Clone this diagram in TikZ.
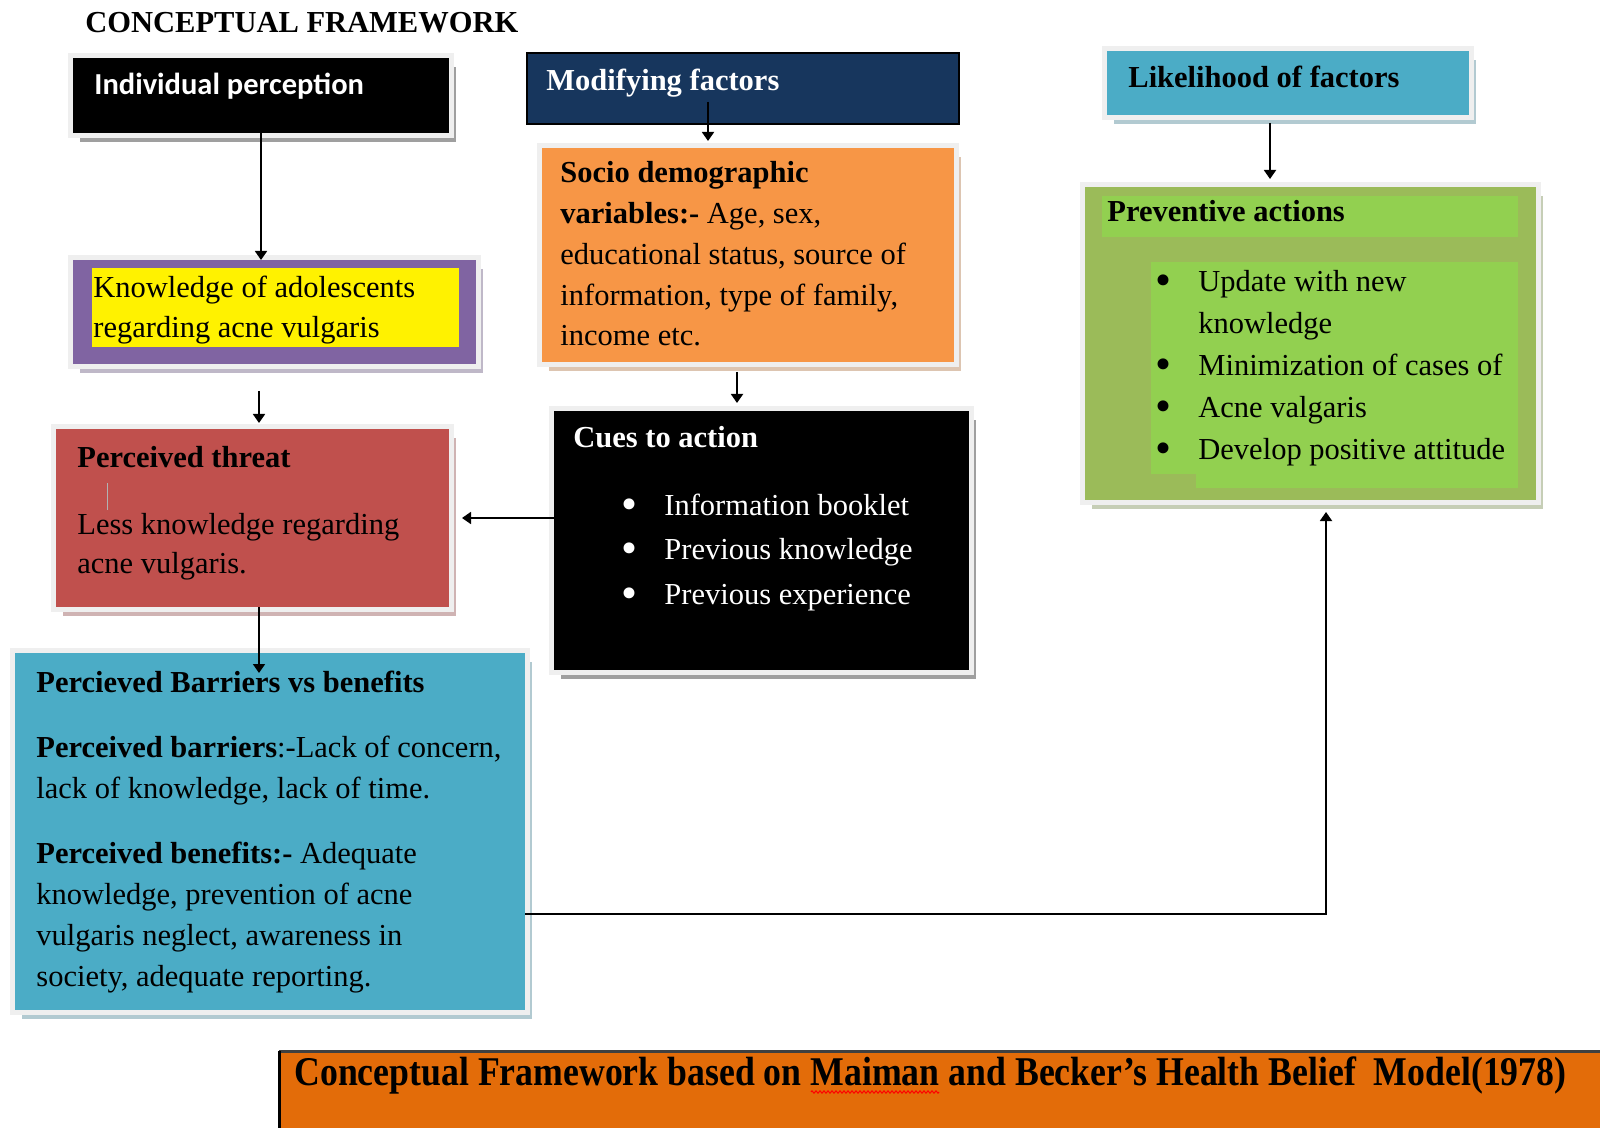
\documentclass[tikz,border=0pt]{standalone}
\usepackage{fontspec}
\setmainfont{Liberation Serif}
\newfontfamily\calibri{Carlito}
\usepackage{graphicx}
\usetikzlibrary{arrows.meta, positioning, fit, shadows, decorations.pathmorphing}

\definecolor{navybox}{HTML}{17365D}
\definecolor{orangebox}{HTML}{F79646}
\definecolor{purplebox}{HTML}{8064A2}
\definecolor{redbox}{HTML}{C0504D}
\definecolor{bluebox}{HTML}{4BACC6}
\definecolor{olivebox}{HTML}{9BBB59}
\definecolor{greenbox}{HTML}{92D050}
\definecolor{bannerorange}{HTML}{E36C09}
\definecolor{framegray}{HTML}{EFEFEF}

\newcommand{\itemdot}{\makebox[21.5pt][l]{\raisebox{-2.2pt}{\scalebox{1.5}{\textbullet}}}}

\tikzset{
  panel/.style={fill=#1, inner sep=0pt, outer sep=0pt,
    general shadow={fill=#1!50!gray!50!white, shadow xshift=3.5pt, shadow yshift=-4.5pt},
    preaction={draw=framegray, line width=5pt}},
  arr/.style={-{Triangle[length=4.5pt,width=6pt]}, line width=0.9pt},
  % multi-line labels sit on the baseline of their last line
  txt/.style={anchor=base west, inner sep=0pt, align=left, font=\fontsize{15.25}{#1}\selectfont},
  txt/.default=20
}

\begin{document}
\begin{tikzpicture}[x=0.5pt, y=-0.5pt]
\useasboundingbox (0,0) rectangle (1600,1128);
\fill[white] (0,0) rectangle (1600,1128);

% heading
\node[txt] (heading) at (85,33) {\textbf{CONCEPTUAL FRAMEWORK}};

% left column
\node[panel=black, fit={(73,58) (449,133)}] (indiv) {};
\node[txt, text=white] (indivlabel) at (94,95) {\calibri\bfseries Individual perception};

\node[panel=purplebox, fit={(73,260) (476,364)}] (know) {};
\fill[yellow] (92,268) rectangle (459,347);
\node[txt] (knowlabel) at (93,338) {Knowledge of adolescents\\regarding acne vulgaris};

\node[panel=redbox, fit={(56,429) (449,607)}] (threat) {};
\draw[gray!60, line width=0.4pt] (107,483) -- (107,510);
\node[txt=19.5] (threatlabel) at (77,573) {\textbf{Perceived threat}\\[14pt]
  Less knowledge regarding\\acne vulgaris.};

\node[panel=bluebox, fit={(15,653) (525,1010)}] (barriers) {};
\node[txt=20.35] (barrierslabel) at (36,986) {\textbf{Percieved Barriers vs benefits}\\[12.3pt]
  \textbf{Perceived barriers}:-Lack of concern,\\
  lack of knowledge, lack of time.\\[12.6pt]
  \textbf{Perceived benefits:-} Adequate\\
  knowledge, prevention of acne\\
  vulgaris neglect, awareness in\\
  society, adequate reporting.};

% middle column
\node[fill=navybox, draw=black, line width=0.7pt, inner sep=0pt, fit={(527,53) (959,124)}] (modifying) {};
\node[txt, text=white] (modifyinglabel) at (546,91) {\textbf{Modifying factors}};

\node[panel=orangebox, fit={(542,148) (954,362)}] (socio) {};
\node[txt=20.4] (sociolabel) at (560,346) {\textbf{Socio demographic}\\
  \textbf{variables:-} Age, sex,\\
  educational status, source of\\
  information, type of family,\\
  income etc.};

\node[panel=black, fit={(554,411) (969,670)}] (cues) {};
\node[txt, text=white] (cueslabel) at (573,447) {\textbf{Cues to action}};
\node[txt=22.25, text=white] (cueslist) at (621,604) {\itemdot Information booklet\\
  \itemdot Previous knowledge\\
  \itemdot Previous experience};

% right column
\node[panel=bluebox, fit={(1107,51) (1469,115)}] (likely) {};
\node[txt] (likelylabel) at (1128,88) {\textbf{Likelihood of factors}};

\node[panel=olivebox, fit={(1085,187) (1536,500)}] (prevent) {};
\fill[greenbox] (1102,196) rectangle (1518,237);
\fill[greenbox] (1151,262) rectangle (1518,474);
\fill[greenbox] (1196,470) rectangle (1518,488);
\node[txt] (preventlabel) at (1107,222) {\textbf{Preventive actions}};
\node[txt=21] (preventlist) at (1155,459) {\itemdot Update with new\\
  \hspace*{21.5pt}knowledge\\
  \itemdot Minimization of cases of\\
  \itemdot Acne valgaris\\
  \itemdot Develop positive attitude};

% arrows
\coordinate (trunk) at (259,0);
\coordinate (modarrow) at (708,102);
\coordinate (sociox) at (737,0);
\coordinate (likelyx) at (1270,0);
\coordinate (elbow) at (1326,914);

\draw[arr] (indiv.south) -- (indiv.south |- know.north);
\draw[arr, shorten <=13.5pt, shorten >=3pt] (trunk |- know.south) -- (trunk |- threat.north);
\draw[arr, shorten >=-10pt] (trunk |- threat.south) -- (trunk |- barriers.north);
\draw[arr, shorten >=6.5pt] (cues.west |- threat.east) -- (threat.east);
\draw[arr, shorten >=3.5pt] (modarrow) -- (modarrow |- socio.north);
\draw[arr, shorten <=5pt, shorten >=4pt] (sociox |- socio.south) -- (sociox |- cues.north);
\draw[arr, shorten <=4pt, shorten >=4pt] (likelyx |- likely.south) -- (likelyx |- prevent.north);
\draw[arr, shorten >=6pt] (barriers.east |- elbow) -- (elbow) -- (elbow |- prevent.south);

% caption banner
\node[fill=bannerorange, inner sep=0pt, outer sep=0pt, fit={(279,1051) (1600,1128)}] (banner) {};
\draw[line width=1.5pt, black!75] (banner.north west) -- (banner.north east);
\draw[line width=1.5pt] (banner.north west) -- (banner.south west);
\node[txt] (bannerlabel) at (294,1085) {\resizebox{636pt}{\height}{\fontsize{20.4}{24}\selectfont\bfseries
  Conceptual Framework based on Maiman and Becker’s Health Belief\ \ Model(1978)}};
\draw[red, line width=0.5pt, decorate, decoration={zigzag, segment length=2pt, amplitude=0.6pt}]
  (811,1092) -- (939,1092);

\end{tikzpicture}
\end{document}
